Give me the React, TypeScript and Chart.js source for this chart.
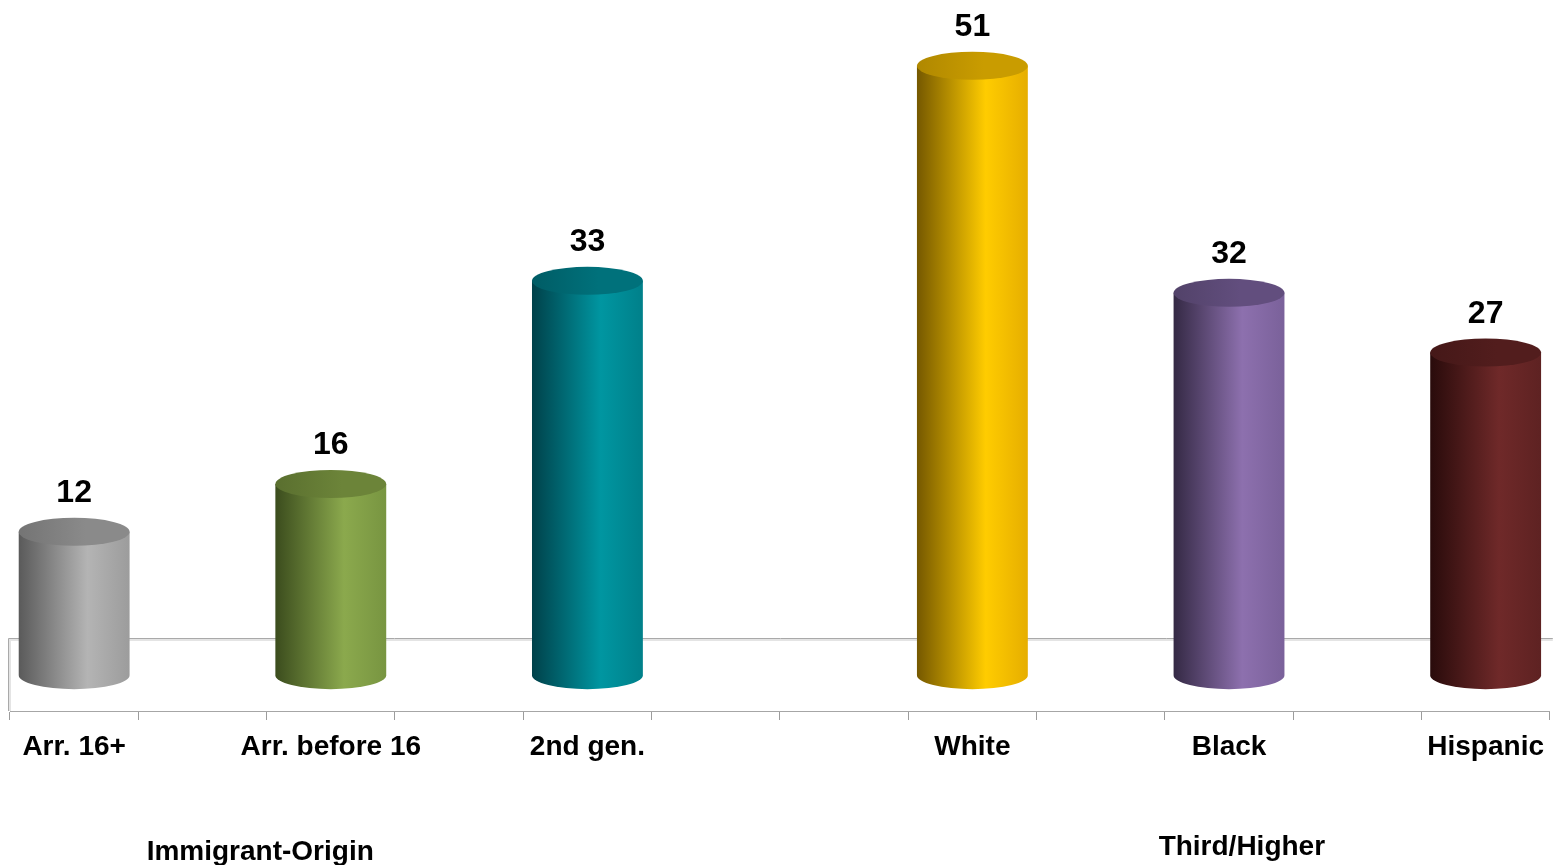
import { useEffect, useRef } from "react";
import { Chart, registerables } from "chart.js";

Chart.register(...registerables);

// Category axis: blank entries are spacer slots between bars.
const slotLabels = [
  "Arr. 16+", "", "Arr. before 16", "", "2nd gen.", "", "",
  "White", "", "Black", "", "Hispanic",
];
const slotValues: (number | null)[] = [12, null, 16, null, 33, null, null, 51, null, 32, null, 27];
const groupLabels = ["Immigrant-Origin", "Third/Higher"];

const FONT = '"Liberation Sans", Arial, Helvetica, sans-serif';

type Shade = { top: string; topDark: string; dark: string; peak: string; edge: string };

// Cylinder shading per category
const shadeByLabel: Record<string, Shade> = {
  "Arr. 16+": { top: "#8a8a8a", topDark: "#747474", dark: "#5a5a5a", peak: "#b4b4b4", edge: "#9c9c9c" },
  "Arr. before 16": { top: "#6c8439", topDark: "#5a6f2f", dark: "#3b4c1d", peak: "#8ba94d", edge: "#789541" },
  "2nd gen.": { top: "#00717b", topDark: "#005c65", dark: "#00414a", peak: "#0096a1", edge: "#00808a" },
  White: { top: "#c99c00", topDark: "#b08800", dark: "#755800", peak: "#ffcc00", edge: "#e6ae00" },
  Black: { top: "#624e7e", topDark: "#524269", dark: "#342944", peak: "#8d70ae", edge: "#7a619a" },
  Hispanic: { top: "#521d1d", topDark: "#451818", dark: "#290b0b", peak: "#6f2929", edge: "#5e2222" },
};

const ELLIPSE_RY = 14;

const floorAndCylinders = {
  id: "floorAndCylinders",
  beforeDatasetsDraw(chart: any) {
    const { ctx, chartArea, scales } = chart;
    const y0 = scales.y.getPixelForValue(0);
    const front = chartArea.bottom;
    const back = Math.round(2 * y0 - front) - 0.5;
    const left = chartArea.left - 1.5;
    ctx.save();
    // soft shadow under the floor outline
    ctx.strokeStyle = "#e4e4e4";
    ctx.lineWidth = 2;
    ctx.beginPath();
    ctx.moveTo(chartArea.right + 3, back + 1.5);
    ctx.lineTo(left + 1.5, back + 1.5);
    ctx.lineTo(left + 1.5, front);
    ctx.stroke();
    ctx.strokeStyle = "#a9a9a9";
    ctx.lineWidth = 1;
    ctx.beginPath();
    ctx.moveTo(chartArea.right + 3, back);
    ctx.lineTo(left, back);
    ctx.lineTo(left, front);
    ctx.stroke();
    ctx.restore();
  },
  afterDatasetsDraw(chart: any) {
    const { ctx } = chart;
    const meta = chart.getDatasetMeta(0);
    meta.data.forEach((el: any, i: number) => {
      const v = slotValues[i];
      if (v == null) return;
      const shade = shadeByLabel[slotLabels[i]];
      const { x, y, base, width } = el.getProps(["x", "y", "base", "width"], true);
      const rx = width / 2;
      const l = x - rx;
      const r = x + rx;
      ctx.save();
      // body
      const g = ctx.createLinearGradient(l, 0, r, 0);
      g.addColorStop(0, shade.dark);
      g.addColorStop(0.62, shade.peak);
      g.addColorStop(1, shade.edge);
      ctx.fillStyle = g;
      ctx.beginPath();
      ctx.moveTo(l, y);
      ctx.lineTo(l, base);
      ctx.ellipse(x, base, rx, ELLIPSE_RY, 0, Math.PI, 0, true);
      ctx.lineTo(r, y);
      ctx.closePath();
      ctx.fill();
      // top cap
      const tg = ctx.createLinearGradient(l, 0, r, 0);
      tg.addColorStop(0, shade.topDark);
      tg.addColorStop(0.6, shade.top);
      tg.addColorStop(1, shade.top);
      ctx.fillStyle = tg;
      ctx.beginPath();
      ctx.ellipse(x, y, rx, ELLIPSE_RY, 0, 0, Math.PI * 2);
      ctx.fill();
      // value label
      ctx.fillStyle = "#000";
      ctx.font = `bold 32px ${FONT}`;
      ctx.textAlign = "center";
      ctx.textBaseline = "alphabetic";
      ctx.fillText(String(v), x, y - ELLIPSE_RY - 16);
      ctx.restore();
    });
  },
  afterDraw(chart: any) {
    const { ctx, scales } = chart;
    const xs = scales.x;
    ctx.save();
    ctx.fillStyle = "#000";
    ctx.font = `bold 28px ${FONT}`;
    ctx.textAlign = "center";
    ctx.textBaseline = "alphabetic";
    ctx.fillText(groupLabels[0], xs.getPixelForValue(1.45), 860);
    ctx.fillText(groupLabels[1], xs.getPixelForValue(9.1), 855);
    ctx.restore();
  },
};

export default function App() {
  const ref = useRef<HTMLCanvasElement>(null);

  useEffect(() => {
    document.body.style.margin = "0";
    const canvas = ref.current;
    if (!canvas) return;
    const chart = new Chart(canvas, {
      type: "bar",
      data: {
        labels: slotLabels,
        datasets: [
          {
            data: slotValues,
            backgroundColor: "rgba(0,0,0,0)",
            borderWidth: 0,
            barPercentage: 0.864,
            categoryPercentage: 1,
          },
        ],
      },
      options: {
        responsive: false,
        animation: false,
        devicePixelRatio: 1,
        layout: { padding: { left: 10, right: -3, top: 18, bottom: 0 } },
        plugins: {
          legend: { display: false },
          tooltip: { enabled: false },
          title: { display: false },
        },
        scales: {
          x: {
            offset: true,
            grid: {
              display: true,
              offset: true,
              drawOnChartArea: false,
              drawTicks: true,
              tickLength: 9,
              color: "#9c9c9c",
            },
            border: { display: true, color: "#a6a6a6" },
            ticks: {
              autoSkip: false,
              maxRotation: 0,
              minRotation: 0,
              padding: 10,
              color: "#000",
              font: { family: FONT, size: 28, weight: "bold" },
            },
            afterFit(scale: any) {
              scale.height = 154;
            },
          },
          y: {
            display: false,
            min: -3,
            max: 55,
          },
        },
      },
      plugins: [floorAndCylinders],
    });
    return () => chart.destroy();
  }, []);

  return (
    <div style={{ width: 1554, height: 865, background: "#fff" }}>
      <canvas ref={ref} width={1554} height={865} />
    </div>
  );
}
